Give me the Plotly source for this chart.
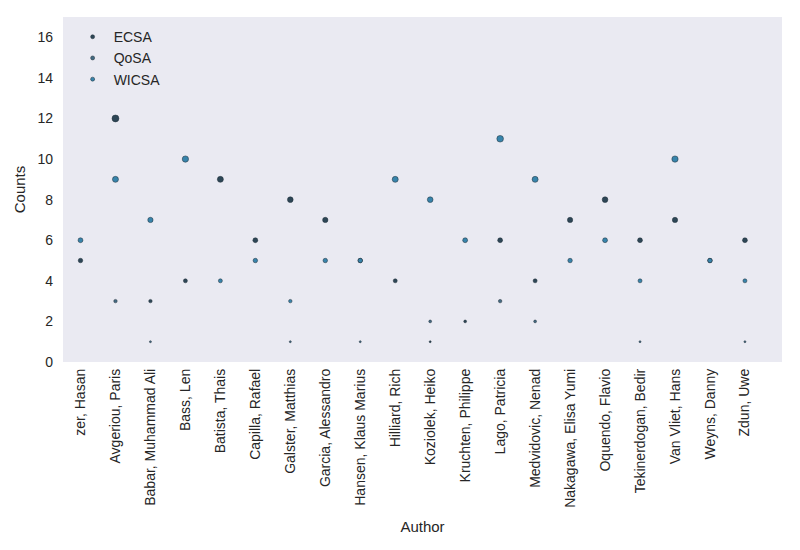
import plotly.graph_objects as go

authors = [
    "zer, Hasan", "Avgeriou, Paris", "Babar, Muhammad Ali", "Bass, Len",
    "Batista, Thais", "Capilla, Rafael", "Galster, Matthias",
    "Garcia, Alessandro", "Hansen, Klaus Marius", "Hilliard, Rich",
    "Koziolek, Heiko", "Kruchten, Philippe", "Lago, Patricia",
    "Medvidovic, Nenad", "Nakagawa, Elisa Yumi", "Oquendo, Flavio",
    "Tekinerdogan, Bedir", "Van Vliet, Hans", "Weyns, Danny", "Zdun, Uwe",
]

# counts per venue (None = no papers at that venue)
ecsa = [5, 12, 3, 4, 9, 6, 8, 7, 5, 4, 1, 2, 6, 4, 7, 8, 6, 7, 5, 6]
qosa = [None, 3, 1, None, None, None, 1, None, 1, None, 2, None, 3, 2,
        None, None, 1, None, None, 1]
wicsa = [6, 9, 7, 10, 4, 5, 3, 5, 5, 9, 8, 6, 11, 9, 5, 6, 4, 10, 5, 4]

series = [
    ("ECSA", ecsa, "#2d4656"),
    ("QoSA", qosa, "#436a82"),
    ("WICSA", wicsa, "#3884ab"),
]

fig = go.Figure()
for name, values, color in series:
    xs = [a for a, v in zip(authors, values) if v is not None]
    ys = [v for v in values if v is not None]
    fig.add_trace(go.Scatter(
        x=xs,
        y=ys,
        mode="markers",
        name=name,
        showlegend=False,
        marker=dict(
            size=ys,
            sizemode="area",
            sizeref=0.5,
            opacity=1,
            color=color,
            line=dict(width=0.5, color="#1f2d36"),
        ),
    ))
    # fixed-size marker for the legend
    fig.add_trace(go.Scatter(
        x=[None], y=[None], mode="markers", name=name,
        marker=dict(size=4, color=color, line=dict(width=0.5, color="#1f2d36")),
    ))

fig.update_layout(
    width=800,
    height=550,
    margin=dict(l=55, r=26, t=9, b=196),
    paper_bgcolor="white",
    plot_bgcolor="#eaeaf2",
    font=dict(family="Liberation Sans, Arial, sans-serif", size=14, color="#262626"),
    legend=dict(
        x=0.012, y=0.988, xanchor="left", yanchor="top",
        bgcolor="rgba(0,0,0,0)", font=dict(size=14),
        tracegroupgap=0, itemwidth=32,
    ),
    xaxis=dict(
        title=dict(text="Author", font=dict(size=15), standoff=14),
        type="category",
        categoryorder="array",
        categoryarray=authors,
        range=[-0.5, 20.06],
        tickangle=-90,
        showgrid=False,
        zeroline=False,
        ticks="",
        ticklabelstandoff=3,
        tickfont=dict(size=14),
    ),
    yaxis=dict(
        title=dict(text="Counts", font=dict(size=15), standoff=8),
        range=[0, 17],
        tickvals=list(range(0, 17, 2)),
        showgrid=False,
        zeroline=False,
        ticks="",
        ticklabelstandoff=9,
        tickfont=dict(size=14),
    ),
)

fig.write_html("out.html")
